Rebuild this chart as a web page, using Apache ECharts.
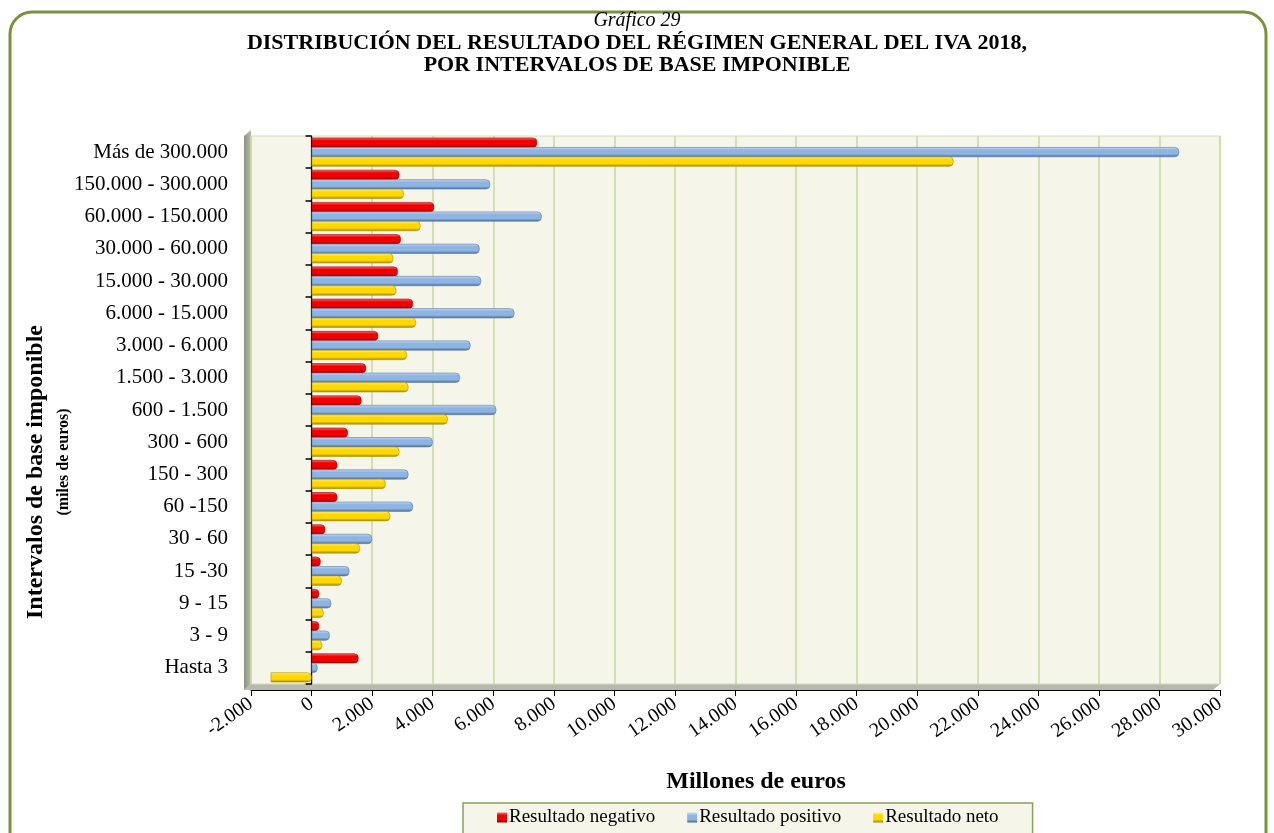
<!DOCTYPE html>
<html>
<head>
<meta charset="utf-8">
<script src="https://cdn.jsdelivr.net/npm/echarts@6/dist/echarts.min.js"></script>
<style>
  html, body { margin: 0; background: #fff; }
  #chart { width: 1274px; height: 833px; }
</style>
</head>
<body>
<div id="chart"></div>
<script>
// intervalos de base imponible (miles de euros)
const categories = [
  'Más de 300.000', '150.000 - 300.000', '60.000 - 150.000', '30.000 - 60.000',
  '15.000 - 30.000', '6.000 - 15.000', '3.000 - 6.000', '1.500 - 3.000',
  '600 - 1.500', '300 - 600', '150 - 300', '60 -150', '30 - 60',
  '15 -30', '9 - 15', '3 - 9', 'Hasta 3'
]
// millones de euros
const negativo = [7450, 2900, 4050, 2950, 2850, 3350, 2200, 1800, 1650, 1200, 850, 850, 450, 300, 250, 250, 1550]
const positivo = [28650, 5900, 7600, 5550, 5600, 6700, 5250, 4900, 6100, 4000, 3200, 3350, 2000, 1250, 650, 600, 200]
const neto = [21200, 3050, 3600, 2700, 2800, 3450, 3150, 3200, 4500, 2900, 2450, 2600, 1600, 1000, 400, 350, -1350]

const serif = '"Liberation Serif", "Times New Roman", serif'

// gradiente tipo cilindro
const cyl = (light, mid, dark) => new echarts.graphic.LinearGradient(0, 0, 0, 1, [
  { offset: 0, color: light },
  { offset: 0.3, color: mid },
  { offset: 0.7, color: mid },
  { offset: 1, color: dark }
])

const fmt = v => String(v).replace(/\B(?=(\d{3})+(?!\d))/g, '.')

const makeSeries = (name, data, colors, edge) => ({
  name,
  type: 'bar',
  data,
  barWidth: 10,
  barGap: '-5%',
  itemStyle: {
    color: cyl(...colors),
    borderColor: edge,
    borderWidth: 0.6,
    borderRadius: [0, 4, 4, 0]
  },
  z: 3
})

const chart = echarts.init(document.getElementById('chart'))

chart.setOption({
  backgroundColor: '#fff',
  animation: false,
  grid: {
    left: 251,
    right: 54,
    top: 136,
    bottom: 149,
    show: true,
    backgroundColor: '#F5F5EA',
    borderColor: '#D4DDB8',
    borderWidth: 1
  },
  legend: {
    left: 463,
    top: 803,
    data: ['Resultado negativo', 'Resultado positivo', 'Resultado neto'],
    icon: 'rect',
    itemWidth: 10,
    itemHeight: 10,
    itemGap: 32,
    itemStyle: { borderWidth: 0 },
    padding: [5, 34, 10, 34],
    backgroundColor: '#F5F5EA',
    borderColor: '#8BA05A',
    borderWidth: 1.5,
    textStyle: { fontFamily: serif, fontSize: 19, color: '#000', padding: [0, 0, 0, -3] }
  },
  xAxis: {
    type: 'value',
    min: -2000,
    max: 30000,
    interval: 2000,
    offset: 6,
    axisLine: { show: true, lineStyle: { color: '#000', width: 1 } },
    axisTick: { show: true, length: 6, lineStyle: { color: '#000' } },
    axisLabel: {
      rotate: 35,
      margin: 12,
      fontFamily: serif,
      fontSize: 20,
      color: '#000',
      formatter: fmt
    },
    splitLine: { show: true, lineStyle: { color: '#C8D99E', width: 1.5 } }
  },
  yAxis: {
    type: 'category',
    inverse: true,
    data: categories,
    axisLine: { show: true, onZero: true, lineStyle: { color: '#000', width: 1.2 } },
    axisTick: { show: true, length: 6, lineStyle: { color: '#000', width: 1.5 } },
    axisLabel: { fontFamily: serif, fontSize: 21, color: '#000', margin: 23 },
    splitLine: { show: false }
  },
  series: [
    makeSeries('Resultado negativo', negativo, ['#FF7070', '#F20000', '#8E0000'], '#A00000'),
    makeSeries('Resultado positivo', positivo, ['#C8DBF2', '#8DB4E2', '#46658C'], '#5A7CA6'),
    makeSeries('Resultado neto', neto, ['#FFF27E', '#FFD800', '#9C8200'], '#B39500')
  ],
  graphic: [
    {
      type: 'rect',
      shape: { x: 10, y: 12, width: 1256, height: 860, r: 22 },
      style: { fill: 'none', stroke: '#77933C', lineWidth: 3 },
      z: -10
    },
    {
      // pared lateral
      type: 'polygon',
      shape: { points: [[251, 130], [251, 684], [244, 690], [244, 136]] },
      style: {
        fill: new echarts.graphic.LinearGradient(0, 0, 1, 0, [
          { offset: 0, color: '#8C9182' },
          { offset: 1, color: '#B9BDAE' }
        ])
      },
      z: -1
    },
    {
      // suelo
      type: 'polygon',
      shape: { points: [[251, 684], [1220, 684], [1213, 690], [244, 690]] },
      style: { fill: '#B7B9AC' },
      z: -1
    },
    {
      type: 'text',
      x: 637,
      y: 21,
      style: { text: 'Gráfico 29', font: 'italic 20px ' + serif, fill: '#000', align: 'center', verticalAlign: 'middle' }
    },
    {
      type: 'text',
      x: 637,
      y: 43,
      style: { text: 'DISTRIBUCIÓN DEL RESULTADO DEL RÉGIMEN GENERAL DEL IVA 2018,', font: 'bold 22px ' + serif, fill: '#000', align: 'center', verticalAlign: 'middle' }
    },
    {
      type: 'text',
      x: 637,
      y: 65,
      style: { text: 'POR INTERVALOS DE BASE IMPONIBLE', font: 'bold 22px ' + serif, fill: '#000', align: 'center', verticalAlign: 'middle' }
    },
    {
      type: 'text',
      x: 756,
      y: 782,
      style: { text: 'Millones de euros', font: 'bold 24px ' + serif, fill: '#000', align: 'center', verticalAlign: 'middle' }
    },
    {
      type: 'text',
      x: 36,
      y: 472,
      rotation: Math.PI / 2,
      style: { text: 'Intervalos de base imponible', font: 'bold 24px ' + serif, fill: '#000', align: 'center', verticalAlign: 'middle' }
    },
    {
      type: 'text',
      x: 64,
      y: 462,
      rotation: Math.PI / 2,
      style: { text: '(miles de euros)', font: 'bold 16px ' + serif, fill: '#000', align: 'center', verticalAlign: 'middle' }
    }
  ]
})

window.addEventListener('resize', () => {
  chart.resize()
})
</script>
</body>
</html>
